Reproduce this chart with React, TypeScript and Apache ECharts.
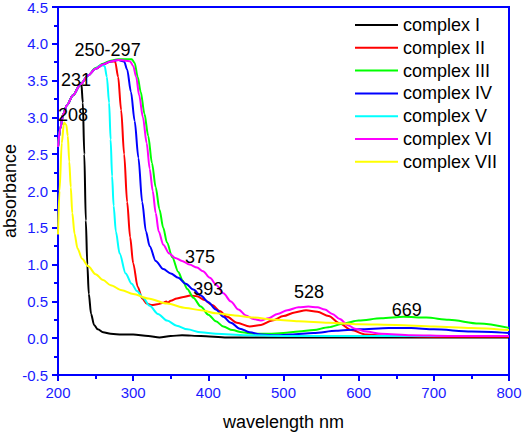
import React, { useEffect, useRef } from "react";
import * as echarts from "echarts";

const seriesNames = ["complex I", "complex II", "complex III", "complex IV", "complex V", "complex VI", "complex VII"];
const seriesColors = ["#000000", "#ff0000", "#00ff00", "#0000ff", "#00ffff", "#ff00ff", "#ffff00"];

const wlI = [200, 203, 207, 212, 220, 228, 231, 233, 235, 237, 239, 241, 244, 248, 253, 260, 270, 285, 300, 320, 335, 350, 365, 390, 425, 500, 600, 700, 800];
const absI = [2.6, 2.85, 3.05, 3.17, 3.3, 3.42, 3.47, 3.2, 2.5, 1.6, 1.0, 0.6, 0.33, 0.18, 0.12, 0.08, 0.06, 0.05, 0.05, 0.03, 0.01, 0.03, 0.04, 0.03, 0.01, 0.01, 0.01, 0.01, 0.01];

const wlII = [200, 203, 207, 212, 220, 230, 240, 250, 260, 270, 276, 280, 284, 288, 292, 296, 300, 306, 312, 318, 325, 332, 340, 344, 346, 350, 358, 367, 376, 385, 395, 405, 415, 425, 438, 455, 470, 485, 500, 515, 530, 545, 560, 575, 590, 610, 640, 700, 800];
const absII = [2.6, 2.85, 3.05, 3.17, 3.3, 3.45, 3.57, 3.66, 3.72, 3.76, 3.76, 3.55, 3.1, 2.5, 1.85, 1.37, 1.02, 0.7, 0.54, 0.47, 0.45, 0.46, 0.48, 0.5, 0.48, 0.51, 0.54, 0.56, 0.58, 0.57, 0.52, 0.45, 0.37, 0.29, 0.21, 0.16, 0.18, 0.24, 0.3, 0.35, 0.38, 0.36, 0.3, 0.2, 0.11, 0.05, 0.03, 0.02, 0.02];

const wlIII = [200, 203, 207, 212, 220, 230, 240, 250, 260, 270, 280, 290, 298, 302, 306, 310, 315, 320, 325, 330, 335, 340, 345, 352, 360, 366, 372, 380, 390, 400, 410, 420, 432, 445, 460, 480, 500, 520, 540, 560, 580, 600, 630, 660, 690, 720, 760, 800];
const absIII = [2.6, 2.85, 3.05, 3.17, 3.3, 3.45, 3.57, 3.67, 3.73, 3.77, 3.79, 3.79, 3.79, 3.74, 3.55, 3.35, 3.05, 2.75, 2.38, 2.05, 1.75, 1.5, 1.3, 1.1, 0.9, 0.78, 0.67, 0.55, 0.43, 0.32, 0.23, 0.16, 0.11, 0.08, 0.06, 0.06, 0.07, 0.09, 0.11, 0.15, 0.2, 0.24, 0.27, 0.29, 0.28, 0.25, 0.2, 0.14];

const wlIV = [200, 203, 207, 212, 220, 230, 240, 250, 260, 270, 280, 288, 292, 297, 302, 307, 312, 317, 322, 330, 340, 350, 360, 370, 380, 390, 400, 410, 420, 430, 442, 455, 470, 490, 510, 540, 570, 600, 640, 670, 700, 750, 800];
const absIV = [2.6, 2.85, 3.05, 3.17, 3.3, 3.45, 3.57, 3.66, 3.72, 3.76, 3.78, 3.76, 3.65, 3.35, 2.95, 2.45, 1.85, 1.45, 1.25, 1.05, 0.94, 0.88, 0.82, 0.74, 0.66, 0.58, 0.49, 0.39, 0.29, 0.21, 0.13, 0.08, 0.05, 0.04, 0.05, 0.07, 0.1, 0.12, 0.14, 0.14, 0.12, 0.09, 0.07];

const wlV = [200, 203, 207, 212, 220, 230, 240, 250, 257, 262, 265, 268, 270, 272, 274, 277, 282, 290, 298, 305, 313, 322, 333, 345, 358, 372, 390, 410, 450, 500, 600, 700, 800];
const absV = [2.6, 2.85, 3.05, 3.17, 3.3, 3.45, 3.57, 3.66, 3.71, 3.7, 3.55, 3.2, 2.7, 2.2, 1.8, 1.45, 1.15, 0.88, 0.74, 0.64, 0.55, 0.44, 0.33, 0.24, 0.17, 0.12, 0.08, 0.06, 0.04, 0.03, 0.03, 0.03, 0.03];

const wlVI = [200, 203, 207, 212, 220, 230, 240, 250, 260, 270, 280, 290, 296, 300, 304, 308, 313, 318, 322, 326, 330, 334, 340, 348, 356, 365, 375, 385, 393, 402, 411, 420, 430, 440, 450, 460, 470, 480, 492, 505, 520, 533, 545, 555, 565, 575, 585, 595, 610, 630, 670, 720, 800];
const absVI = [2.6, 2.85, 3.05, 3.17, 3.3, 3.45, 3.57, 3.66, 3.72, 3.76, 3.78, 3.77, 3.76, 3.7, 3.55, 3.3, 3.0, 2.65, 2.3, 2.0, 1.7, 1.45, 1.27, 1.15, 1.09, 1.05, 1.0, 0.96, 0.91, 0.82, 0.72, 0.61, 0.5, 0.39, 0.31, 0.26, 0.24, 0.27, 0.33, 0.38, 0.42, 0.43, 0.42, 0.39, 0.33, 0.26, 0.18, 0.13, 0.09, 0.06, 0.04, 0.03, 0.03];

const wlVII = [200, 202, 205, 208, 211, 213, 215, 217, 219, 222, 226, 232, 240, 250, 260, 270, 285, 300, 320, 345, 370, 390, 410, 435, 460, 490, 520, 560, 600, 650, 700, 750, 800];
const absVII = [1.41, 2.0, 2.65, 2.93, 2.9, 2.75, 2.4, 2.05, 1.7, 1.42, 1.22, 1.08, 0.98, 0.87, 0.79, 0.72, 0.65, 0.6, 0.54, 0.47, 0.41, 0.38, 0.34, 0.31, 0.28, 0.25, 0.23, 0.21, 0.19, 0.18, 0.16, 0.14, 0.11];

const wavelengths = [wlI, wlII, wlIII, wlIV, wlV, wlVI, wlVII];
const absorbances = [absI, absII, absIII, absIV, absV, absVI, absVII];

const annotationLabels = ["250-297", "231", "208", "375", "393", "528", "669"];
const annotationX = [266, 224, 220, 389, 400, 534, 664];
const annotationY = [3.91, 3.51, 3.03, 1.1, 0.67, 0.63, 0.38];

const xTicks = { min: 200, max: 800, interval: 100 };
const yTicks = { min: -0.5, max: 4.5, interval: 0.5 };

const FONT = "'Liberation Sans', Arial, sans-serif";
const AXIS_BLUE = "#0000ff";
const LABEL_BLUE = "#1a1aff";

export default function App() {
  const ref = useRef<HTMLDivElement>(null);
  useEffect(() => {
    if (!ref.current) return;
    const chart = echarts.init(ref.current, undefined, { renderer: "svg" });
    const lineSeries = seriesNames.map((name, i) => ({
      name,
      type: "line",
      data: wavelengths[i].map((w, j) => [w, absorbances[i][j]]),
      showSymbol: false,
      symbol: "none",
      smooth: 0.3,
      smoothMonotone: "x",
      lineStyle: { color: seriesColors[i], width: 2 },
      itemStyle: { color: seriesColors[i] },
      z: 2,
    }));
    const annotationSeries = {
      name: "annotations",
      type: "scatter",
      symbolSize: 0,
      itemStyle: { opacity: 1, color: "#000000" },
      data: annotationLabels.map((t, i) => ({ value: [annotationX[i], annotationY[i]], name: t })),
      label: {
        show: true,
        position: "inside",
        formatter: (p: any) => p.name,
        color: "#000000",
        opacity: 1,
        textBorderWidth: 0,
        fontSize: 18,
        fontFamily: FONT,
      },
      silent: true,
      z: 5,
    };
    chart.setOption({
      animation: false,
      backgroundColor: "#ffffff",
      grid: {
        left: 58,
        right: 15,
        top: 7,
        bottom: 59,
        containLabel: false,
        outerBoundsMode: "none",
        show: true,
        borderColor: AXIS_BLUE,
        borderWidth: 2,
      },
      legend: {
        data: seriesNames,
        orient: "vertical",
        left: 355,
        top: 16,
        padding: 0,
        itemWidth: 43,
        itemHeight: 2,
        itemGap: 4.8,
        icon: "rect",
        textStyle: { fontSize: 18, fontFamily: FONT, color: "#000", lineHeight: 18 },
      },
      xAxis: {
        type: "value",
        min: xTicks.min,
        max: xTicks.max,
        interval: xTicks.interval,
        name: "wavelength nm",
        nameLocation: "middle",
        nameGap: 38,
        nameMoveOverlap: false,
        nameTextStyle: { fontSize: 18, fontFamily: FONT, color: "#000" },
        axisLine: { show: true, onZero: false, lineStyle: { color: AXIS_BLUE, width: 2 } },
        axisTick: { show: true, inside: false, length: 6, lineStyle: { color: AXIS_BLUE, width: 2 } },
        minorTick: { show: true, splitNumber: 2, length: 4, lineStyle: { color: AXIS_BLUE, width: 2 } },
        axisLabel: { fontSize: 15, fontFamily: FONT, color: LABEL_BLUE, margin: 10 },
        splitLine: { show: false },
      },
      yAxis: {
        type: "value",
        min: yTicks.min,
        max: yTicks.max,
        interval: yTicks.interval,
        name: "absorbance",
        nameLocation: "middle",
        nameGap: 39,
        nameMoveOverlap: false,
        nameTextStyle: { fontSize: 18, fontFamily: FONT, color: "#000" },
        axisLine: { show: true, onZero: false, lineStyle: { color: AXIS_BLUE, width: 2 } },
        axisTick: { show: true, inside: false, length: 6, lineStyle: { color: AXIS_BLUE, width: 2 } },
        minorTick: { show: true, splitNumber: 2, length: 4, lineStyle: { color: AXIS_BLUE, width: 2 } },
        axisLabel: {
          fontSize: 15,
          fontFamily: FONT,
          color: LABEL_BLUE,
          margin: 10,
          formatter: (v: number) => v.toFixed(1),
        },
        splitLine: { show: false },
      },
      series: [...lineSeries, annotationSeries],
    });
    return () => chart.dispose();
  }, []);
  return <div ref={ref} style={{ width: 524, height: 434, position: "absolute", left: 0, top: 0 }} />;
}
